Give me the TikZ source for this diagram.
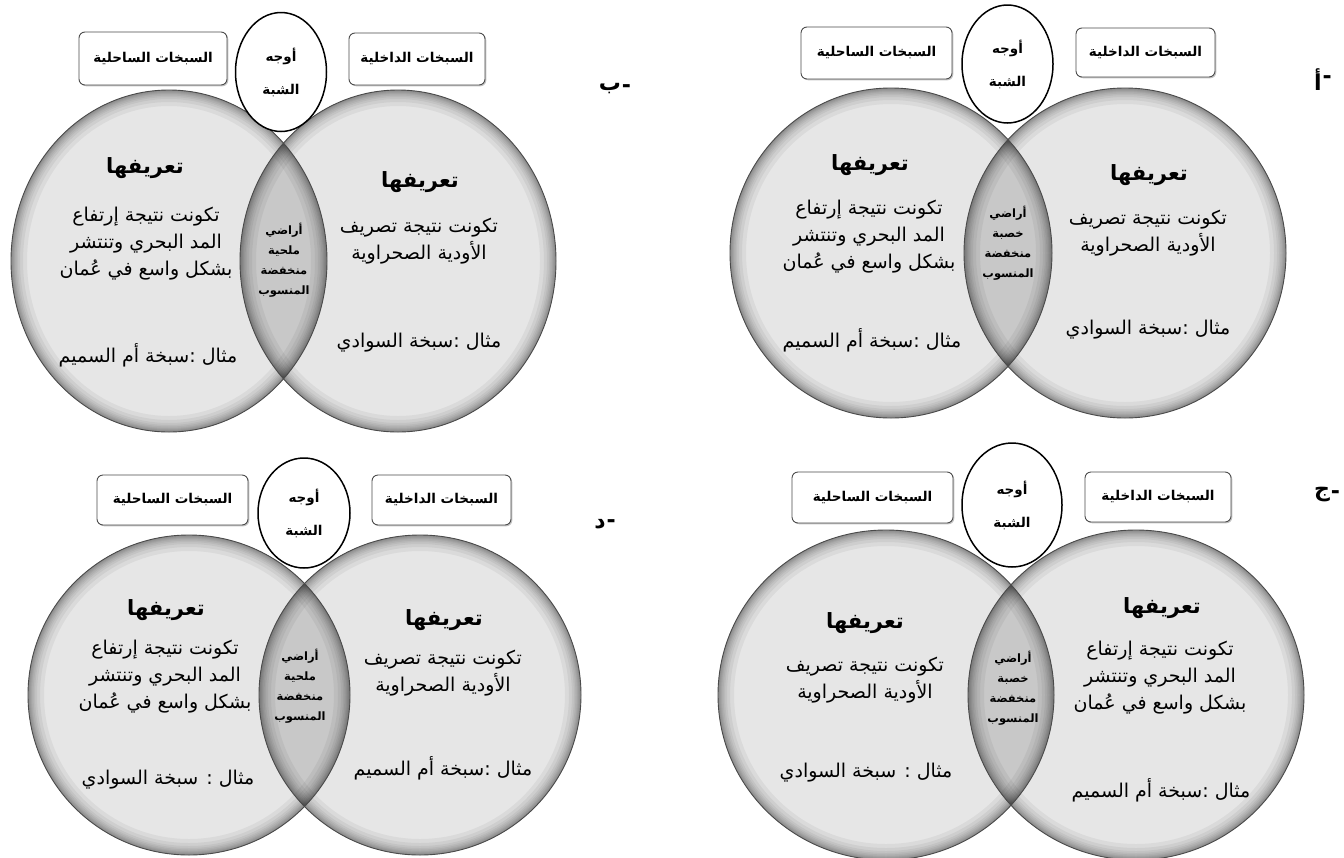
\documentclass[tikz,border=0pt]{standalone}
\usepackage{fontspec}
\usetikzlibrary{shapes.geometric,shadows}
\TeXXeTstate=1
\newfontfamily\arabicfont[Script=Arabic]{DejaVu Sans}
\newfontfamily\latinfont{DejaVu Sans}
\newcommand\AR[1]{{\arabicfont\beginR #1\endR}}
\definecolor{vennfill}{HTML}{E6E6E6}
\definecolor{vennline}{HTML}{4A4A4A}
\tikzset{
  vfill/.style={fill=vennfill},
  vline/.style={draw=vennline, line width=0.9pt},
  box/.style={draw=black!70, line width=0.9pt, fill=white, rounded corners=6pt,
    drop shadow={shadow xshift=1.3pt, shadow yshift=-1.3pt, opacity=0.45},
    inner sep=0pt, font=\arabicfont\bfseries\fontsize{13.5}{16}\selectfont},
  simil/.style={ellipse, draw=black, line width=1.5pt, fill=white, inner sep=0pt,
    align=center, font=\arabicfont\bfseries\fontsize{13.5}{33}\selectfont},
  ttl/.style={font=\arabicfont\bfseries\fontsize{21}{24}\selectfont},
  body/.style={align=center, font=\arabicfont\fontsize{19}{27}\selectfont},
  lenstext/.style={align=center, font=\arabicfont\bfseries\fontsize{11.5}{20}\selectfont},
  lbl/.style={inner sep=0pt, font=\arabicfont\bfseries\fontsize{22}{24}\selectfont},
  dashlbl/.style={inner sep=0pt, anchor=west, font=\latinfont\bfseries\fontsize{22}{24}\selectfont},
}
% #1 left cx, #2 right cx, #3 cy, #4 rx, #5 ry
\newcommand\vennpair[5]{%
  \fill[vfill] (#1,#3) ellipse [x radius=#4pt, y radius=#5pt];
  \fill[vfill] (#2,#3) ellipse [x radius=#4pt, y radius=#5pt];
  \begin{scope}
    \clip (#1,#3) ellipse [x radius=#4pt, y radius=#5pt];
    \fill[black, opacity=0.13] (#2,#3) ellipse [x radius=#4pt, y radius=#5pt];
  \end{scope}
  \begin{scope}
    \clip (#1,#3) ellipse [x radius=#4pt, y radius=#5pt];
    \foreach \w in {2,4,6,8,11,14,18,24,32}
      \draw[line width=\w pt, black, opacity=0.05] (#1,#3) ellipse [x radius=#4pt, y radius=#5pt];
  \end{scope}
  \begin{scope}
    \clip (#2,#3) ellipse [x radius=#4pt, y radius=#5pt];
    \foreach \w in {2,4,6,8,11,14,18,24,32}
      \draw[line width=\w pt, black, opacity=0.05] (#2,#3) ellipse [x radius=#4pt, y radius=#5pt];
  \end{scope}
  \draw[vline] (#1,#3) ellipse [x radius=#4pt, y radius=#5pt];
  \draw[vline] (#2,#3) ellipse [x radius=#4pt, y radius=#5pt];
}
\begin{document}
\begin{tikzpicture}[x=1pt,y=-1pt]
\useasboundingbox (0,0) rectangle (1344,857);
\fill[white] (0,0) rectangle (1344,857);

% ================= Panel b (top-left)
\vennpair{169}{398}{261}{158}{171}
\node[box, minimum width=148pt, minimum height=53pt] (bL) at (153,58.5) {\AR{السبخات الساحلية}};
\node[box, minimum width=136pt, minimum height=52pt] (bR) at (417,59) {\AR{السبخات الداخلية}};
\node[simil, minimum width=91pt, minimum height=119pt] (bE) at (281,72) {\AR{أوجه}\\\AR{الشبة}};
\node[lbl] (bN) at (610,89) {ب};
\node[dashlbl] (bNd) at ([xshift=0.5pt]bN.east) {-};
\node[ttl] (bLt) at (145,168) {\AR{تعريفها}};
\node[body] (bLb) at (146,244) {\AR{تكونت نتيجة إرتفاع}\\\AR{المد البحري وتنتشر}\\\AR{بشكل واسع في عُمان}};
\node[body] (bLe) at (148,355) {\AR{مثال :سبخة أم السميم}};
\node[lenstext] (bX) at (284,260) {\AR{أراضي}\\\AR{ملحية}\\\AR{منخفضة}\\\AR{المنسوب}};
\node[ttl] (bRt) at (420,182) {\AR{تعريفها}};
\node[body] (bRb) at (419,241) {\AR{تكونت نتيجة تصريف}\\\AR{الأودية الصحراوية}};
\node[body] (bRe) at (419,343) {\AR{مثال :سبخة السوادي}};

% ================= Panel a (top-right)
\vennpair{891}{1125}{253}{161}{165}
\node[box, minimum width=151pt, minimum height=52pt] (aL) at (876.5,53) {\AR{السبخات الساحلية}};
\node[box, minimum width=139pt, minimum height=49pt] (aR) at (1145.5,52.5) {\AR{السبخات الداخلية}};
\node[simil, minimum width=91pt, minimum height=118pt] (aE) at (1007.5,64) {\AR{أوجه}\\\AR{الشبة}};
\node[lbl] (aN) at (1318,80) {أ};
\node[dashlbl] (aNd) at ([xshift=0.5pt]aN.east) {-};
\node[ttl] (aLt) at (870,165) {\AR{تعريفها}};
\node[body] (aLb) at (869,237) {\AR{تكونت نتيجة إرتفاع}\\\AR{المد البحري وتنتشر}\\\AR{بشكل واسع في عُمان}};
\node[body] (aLe) at (872,340) {\AR{مثال :سبخة أم السميم}};
\node[lenstext] (aX) at (1008,243) {\AR{أراضي}\\\AR{خصبة}\\\AR{منخفضة}\\\AR{المنسوب}};
\node[ttl] (aRt) at (1149,175) {\AR{تعريفها}};
\node[body] (aRb) at (1148,233) {\AR{تكونت نتيجة تصريف}\\\AR{الأودية الصحراوية}};
\node[body] (aRe) at (1148,330) {\AR{مثال :سبخة السوادي}};

% ================= Panel d (bottom-left)
\vennpair{189}{420}{695}{161}{160}
\node[box, minimum width=151pt, minimum height=50pt] (dL) at (172.5,500) {\AR{السبخات الساحلية}};
\node[box, minimum width=139pt, minimum height=50pt] (dR) at (441.5,500) {\AR{السبخات الداخلية}};
\node[simil, minimum width=92pt, minimum height=110pt] (dE) at (304,513) {\AR{أوجه}\\\AR{الشبة}};
\node[lbl] (dN) at (600,524) {د};
\node[dashlbl] (dNd) at ([xshift=0.5pt]dN.east) {-};
\node[ttl] (dLt) at (166,610) {\AR{تعريفها}};
\node[body] (dLb) at (165,677) {\AR{تكونت نتيجة إرتفاع}\\\AR{المد البحري وتنتشر}\\\AR{بشكل واسع في عُمان}};
\node[body] (dLe) at (168,780) {\AR{مثال : سبخة السوادي}};
\node[lenstext] (dX) at (300,686) {\AR{أراضي}\\\AR{ملحية}\\\AR{منخفضة}\\\AR{المنسوب}};
\node[ttl] (dRt) at (444,620) {\AR{تعريفها}};
\node[body] (dRb) at (443,673) {\AR{تكونت نتيجة تصريف}\\\AR{الأودية الصحراوية}};
\node[body] (dRe) at (443,768) {\AR{مثال :سبخة أم السميم}};

% ================= Panel j (bottom-right)
\vennpair{886}{1136}{695}{168}{165}
\node[box, minimum width=161pt, minimum height=51pt] (jL) at (872.5,497.5) {\AR{السبخات الساحلية}};
\node[box, minimum width=146pt, minimum height=50pt] (jR) at (1158,497) {\AR{السبخات الداخلية}};
\node[simil, minimum width=100pt, minimum height=124pt] (jE) at (1012,505) {\AR{أوجه}\\\AR{الشبة}};
\node[lbl] (jN) at (1322,495) {ج};
\node[dashlbl] (jNd) at ([xshift=0.5pt]jN.east) {-};
\node[ttl] (jLt) at (865,623) {\AR{تعريفها}};
\node[body] (jLb) at (865,680) {\AR{تكونت نتيجة تصريف}\\\AR{الأودية الصحراوية}};
\node[body] (jLe) at (866,773) {\AR{مثال : سبخة السوادي}};
\node[lenstext] (jX) at (1013,688) {\AR{أراضي}\\\AR{خصبة}\\\AR{منخفضة}\\\AR{المنسوب}};
\node[ttl] (jRt) at (1162,608) {\AR{تعريفها}};
\node[body] (jRb) at (1160,678) {\AR{تكونت نتيجة إرتفاع}\\\AR{المد البحري وتنتشر}\\\AR{بشكل واسع في عُمان}};
\node[body] (jRe) at (1161,790) {\AR{مثال :سبخة أم السميم}};
\end{tikzpicture}
\end{document}
